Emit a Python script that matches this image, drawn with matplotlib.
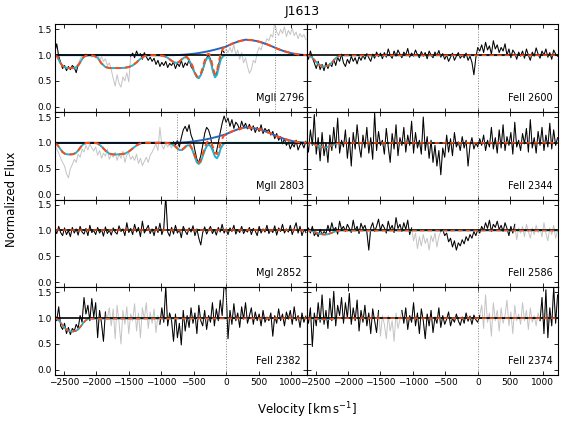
import numpy as np
import matplotlib.pyplot as plt

# spectrum pixel grid (km/s)
vel = np.arange(-2640, 1241, 30)

flux_mg2796 = [1.05, 1.22, 0.98, 0.86, 0.74, 0.80, 0.70, 0.78, 0.72, 0.80,
               0.76, 0.66, 0.82, 0.92, 1.00, 0.97, 1.03, 0.98, 1.02, 0.96,
               1.00, 0.95, 1.02, 0.90, 0.97, 0.88, 0.93, 0.80, 0.85, 0.72,
               0.55, 0.40, 0.62, 0.45, 0.38, 0.58, 0.50, 0.66, 0.48, 0.98,
               1.04, 0.95, 1.08, 0.99, 1.03, 0.92, 1.05, 0.97, 0.90, 0.96,
               0.88, 0.94, 0.82, 0.90, 0.78, 0.86, 0.80, 0.88, 0.76, 0.84,
               0.80, 0.87, 0.74, 0.84, 0.78, 0.90, 0.76, 0.85, 0.80, 0.92,
               0.78, 0.72, 0.66, 0.58, 0.55, 0.62, 0.70, 0.84, 0.95, 1.00,
               0.92, 0.75, 0.60, 0.62, 0.78, 0.95, 1.10, 1.05, 1.12, 1.05,
               1.15, 1.05, 1.20, 1.00, 1.10, 0.92, 1.05, 0.85, 0.95, 0.78,
               0.65, 0.72, 0.90, 0.85, 1.05, 1.15, 1.10, 1.25, 1.20, 1.32,
               1.28, 1.40, 1.35, 1.65, 1.45, 1.38, 1.50, 1.42, 1.55, 1.36,
               1.48, 1.40, 1.52, 1.38, 1.45, 1.32, 1.42, 1.35, 1.40, 1.30]

flux_fe2600 = [1.02, 0.92, 1.08, 0.95, 0.85, 0.74, 0.88, 0.72, 0.82, 0.70,
               0.86, 0.74, 0.84, 0.78, 0.92, 0.80, 0.96, 0.88, 1.02, 0.85,
               0.78, 0.92, 0.84, 0.98, 0.88, 0.95, 0.83, 0.97, 0.90, 1.00,
               0.92, 1.03, 0.95, 0.88, 1.02, 0.94, 1.06, 0.97, 1.04, 0.93,
               1.05, 0.96, 1.12, 1.00, 0.94, 1.08, 0.98, 1.10, 1.02, 0.95,
               1.06, 1.00, 1.13, 0.96, 1.04, 0.98, 1.10, 1.01, 0.95, 1.07,
               0.98, 1.05, 0.93, 1.08, 1.00, 0.95, 1.06, 0.99, 1.09, 0.96,
               1.03, 0.92, 1.00, 0.88, 0.96, 1.04, 0.90, 0.98, 1.05, 0.94,
               1.00, 0.95, 1.04, 0.90, 0.98, 0.86, 0.62, 0.95, 1.15, 1.08,
               1.20, 1.05, 1.25, 1.10, 1.18, 1.02, 1.28, 1.12, 1.20, 1.05,
               1.15, 1.08, 1.22, 1.00, 1.12, 0.95, 1.10, 1.04, 0.92, 1.06,
               0.98, 1.08, 0.94, 1.12, 1.00, 0.90, 1.06, 0.98, 1.14, 1.02,
               0.94, 1.08, 1.00, 1.12, 0.96, 1.05, 0.92, 1.10, 1.02, 0.98]

flux_mg2803 = [0.98, 0.88, 0.80, 0.70, 0.62, 0.55, 0.40, 0.32, 0.50, 0.58,
               0.68, 0.62, 0.78, 0.72, 0.88, 0.82, 0.95, 0.86, 0.98, 0.90,
               0.84, 0.92, 0.76, 0.85, 0.70, 0.80, 0.74, 0.88, 0.68, 0.78,
               0.72, 0.82, 0.66, 0.78, 0.70, 0.84, 0.62, 0.76, 0.80, 0.68,
               0.74, 0.66, 0.78, 0.60, 0.70, 0.56, 0.64, 0.72, 0.62, 0.76,
               0.82, 0.90, 0.98, 0.85, 1.30, 0.95, 0.88, 1.00, 0.92, 0.97,
               0.90, 1.02, 0.95, 1.05, 0.92, 1.10, 1.25, 1.32, 1.22, 1.35,
               1.15, 1.05, 0.85, 0.68, 0.62, 0.75, 0.95, 1.18, 1.30, 1.25,
               1.12, 0.90, 0.78, 0.82, 1.00, 1.20, 1.38, 1.52, 1.40, 1.48,
               1.32, 1.45, 1.28, 1.40, 1.35, 1.25, 1.42, 1.30, 1.38, 1.27,
               1.36, 1.24, 1.33, 1.20, 1.30, 1.22, 1.35, 1.18, 1.28, 1.22,
               1.26, 1.15, 1.22, 1.08, 1.18, 1.05, 1.12, 0.98, 1.08, 0.95,
               1.02, 0.88, 0.98, 0.92, 1.05, 0.86, 0.96, 1.00, 0.90, 1.03]

flux_fe2344 = [1.05, 0.82, 1.25, 0.95, 1.55, 0.78, 1.10, 0.65, 1.20, 0.75,
               1.00, 0.62, 1.15, 0.85, 1.30, 0.90, 1.48, 0.80, 1.05, 0.92,
               1.25, 0.70, 1.10, 0.55, 1.20, 0.88, 1.35, 0.95, 0.72, 1.15,
               0.90, 1.30, 0.80, 1.10, 0.68, 1.58, 0.85, 1.22, 0.95, 1.05,
               0.78, 1.28, 0.92, 0.62, 1.18, 0.88, 1.35, 0.75, 1.10, 0.95,
               1.30, 0.82, 1.15, 0.95, 1.42, 0.80, 1.20, 0.90, 1.05, 0.78,
               1.50, 0.85, 1.12, 0.70, 1.05, 0.62, 0.95, 0.55, 0.85, 0.38,
               0.90, 0.72, 1.15, 0.82, 1.08, 0.75, 1.20, 0.92, 1.02, 0.85,
               1.12, 0.90, 1.05, 0.55, 0.95, 1.10, 0.88, 1.00, 0.92, 1.08,
               0.95, 1.15, 0.85, 1.05, 0.92, 1.30, 0.88, 1.10, 0.80, 1.25,
               0.90, 1.35, 0.85, 1.12, 0.95, 1.20, 0.78, 1.40, 0.92, 1.05,
               0.85, 1.18, 0.98, 1.28, 0.82, 1.45, 0.90, 1.10, 0.80, 1.22,
               0.95, 1.30, 0.85, 1.15, 0.92, 1.38, 0.88, 1.25, 0.95, 1.10]

flux_mg2852 = [1.02, 0.94, 1.08, 0.96, 0.90, 1.05, 0.92, 1.00, 0.88, 1.06,
               0.95, 1.03, 0.91, 1.08, 0.97, 0.93, 1.04, 0.90, 1.10, 0.96,
               1.00, 0.92, 1.06, 0.95, 1.02, 0.89, 1.07, 0.94, 1.01, 0.91,
               1.05, 0.97, 0.93, 1.09, 0.98, 1.03, 0.90, 1.15, 0.96, 1.04,
               0.92, 1.12, 0.97, 1.06, 0.88, 1.18, 0.95, 1.02, 1.10, 0.94,
               1.03, 0.90, 1.08, 0.96, 1.14, 0.92, 1.04, 1.68, 0.97, 0.89,
               1.06, 0.93, 1.10, 0.95, 1.02, 0.86, 1.08, 0.99, 0.92, 1.05,
               0.97, 1.09, 0.90, 1.03, 0.85, 0.72, 0.96, 1.07, 0.93, 1.01,
               1.08, 0.94, 1.02, 0.91, 1.06, 0.97, 1.12, 0.95, 1.03, 0.92,
               1.05, 0.98, 1.10, 0.93, 1.02, 0.96, 1.08, 0.94, 1.01, 0.97,
               1.06, 0.92, 1.04, 0.99, 0.90, 1.08, 0.95, 1.03, 0.97, 1.10,
               0.94, 1.02, 0.96, 1.09, 0.91, 1.05, 0.98, 1.12, 0.95, 1.03,
               0.97, 1.10, 0.92, 1.04, 1.15, 0.95, 1.08, 0.90, 1.02, 0.96]

flux_fe2586 = [1.00, 1.05, 0.95, 1.08, 0.90, 0.96, 0.88, 1.02, 0.92, 0.98,
               0.94, 1.10, 0.97, 1.15, 1.00, 1.06, 0.93, 1.18, 1.02, 1.08,
               0.98, 1.12, 1.04, 0.96, 1.20, 1.00, 1.08, 0.94, 1.14, 1.03,
               1.10, 0.97, 0.62, 1.05, 1.15, 0.98, 1.08, 1.22, 1.00, 1.12,
               1.05, 0.95, 1.18, 1.02, 1.10, 0.96, 1.25, 1.04, 1.12, 0.98,
               1.15, 1.02, 1.20, 0.92, 1.05, 0.80, 0.95, 0.65, 0.88, 0.70,
               0.92, 0.75, 0.85, 0.62, 0.90, 0.78, 0.95, 0.68, 0.88, 0.98,
               1.02, 0.90, 0.95, 0.78, 0.85, 0.68, 0.80, 0.62, 0.76, 0.70,
               0.82, 0.74, 0.88, 0.80, 0.92, 0.85, 0.98, 0.90, 1.02, 0.95,
               1.08, 1.00, 1.15, 1.04, 1.20, 0.98, 1.12, 1.06, 1.18, 1.02,
               1.10, 0.98, 1.15, 1.04, 0.90, 1.08, 0.95, 1.12, 0.82, 1.05,
               0.95, 1.08, 0.88, 1.12, 0.98, 0.85, 1.05, 0.92, 1.10, 0.96,
               1.02, 0.88, 1.15, 0.95, 0.80, 1.05, 0.92, 1.10, 0.85, 1.00]

flux_fe2382 = [1.10, 0.95, 1.22, 0.85, 0.78, 0.90, 0.70, 0.82, 0.68, 0.80,
               0.75, 0.88, 0.80, 1.05, 0.92, 1.40, 1.08, 1.25, 0.95, 1.38,
               1.02, 1.30, 0.62, 1.15, 0.90, 0.55, 1.12, 0.98, 1.20, 0.85,
               1.18, 0.60, 1.25, 0.92, 0.50, 1.15, 0.88, 1.22, 0.70, 1.08,
               0.95, 1.28, 0.75, 1.10, 0.62, 1.20, 0.98, 1.30, 0.80, 1.12,
               0.90, 1.18, 0.72, 1.05, 0.88, 1.20, 0.92, 1.62, 0.85, 1.10,
               0.95, 0.55, 1.08, 0.62, 0.90, 0.48, 1.15, 0.75, 1.05, 0.82,
               1.20, 0.90, 1.10, 0.70, 1.25, 0.95, 0.85, 1.15, 0.78, 1.05,
               0.92, 1.30, 0.85, 1.18, 0.95, 1.35, 1.05, 1.65, 1.55, 0.60,
               1.15, 0.88, 1.28, 0.95, 1.10, 0.82, 1.22, 0.98, 1.30, 0.90,
               1.05, 1.20, 0.88, 1.12, 0.95, 1.08, 0.85, 1.15, 0.92, 1.02,
               0.95, 1.10, 0.65, 1.05, 0.90, 1.18, 0.95, 1.08, 0.85, 1.12,
               0.98, 1.15, 0.88, 1.22, 0.95, 1.05, 0.82, 1.10, 0.92, 1.04]

flux_fe2374 = [1.05, 0.90, 1.20, 0.45, 1.10, 0.85, 1.30, 0.92, 1.45, 0.88,
               1.15, 0.80, 1.38, 0.95, 1.52, 0.85, 1.25, 1.05, 1.40, 0.90,
               1.30, 1.00, 1.48, 0.88, 1.20, 0.95, 1.35, 0.75, 1.15, 0.92,
               1.25, 0.85, 1.10, 0.70, 1.18, 0.95, 0.72, 1.15, 0.65, 1.05,
               0.88, 0.60, 1.05, 0.75, 0.95, 0.55, 1.10, 0.80, 0.98, 1.15,
               0.90, 1.20, 0.78, 1.05, 0.92, 1.30, 0.85, 1.10, 0.70, 1.18,
               0.95, 0.60, 1.08, 0.85, 1.15, 0.72, 1.02, 0.90, 1.20, 0.82,
               1.05, 0.88, 0.98, 1.12, 0.85, 1.00, 0.92, 1.08, 0.95, 0.86,
               1.02, 0.90, 1.10, 0.94, 1.04, 0.88, 1.06, 0.97, 0.92, 1.05,
               1.25, 0.80, 1.45, 0.92, 1.10, 0.65, 1.30, 0.95, 1.15, 0.75,
               1.20, 0.90, 1.05, 1.35, 0.85, 1.12, 0.70, 1.25, 0.95, 1.08,
               0.88, 1.30, 0.95, 1.15, 0.78, 1.20, 0.92, 1.05, 0.85, 1.10,
               0.95, 1.40, 0.70, 1.55, 0.62, 1.20, 0.85, 1.60, 0.90, 1.45]

# velocity ranges left out of the fit (drawn grey)
grey_mg2796 = [(-2265, -1475), (-15, 1250)]
grey_fe2600 = []
grey_mg2803 = [(-2650, -815)]
grey_fe2344 = []
grey_mg2852 = []
grey_fe2586 = [(-1000, -590), (590, 1250)]
grey_fe2382 = [(-1840, -1030)]
grey_fe2374 = [(-1510, -1190), (45, 945)]

# MgII model knots
mg_model_vel = [-2640, -2600, -2560, -2520, -2480, -2440, -2400, -2360, -2320, -2280,
                -2240, -2200, -2160, -2100, -2040, -1980, -1920, -1860, -1800, -1740,
                -1680, -1620, -1560, -1500, -1440, -1380, -1320, -1260, -1200, -1100,
                -1000, -950, -900, -850, -800, -760, -720, -680, -640, -600,
                -560, -520, -480, -450, -420, -390, -360, -320, -290, -260,
                -230, -200, -170, -140, -110, -80, -40, 0, 100, 200,
                300, 400, 500, 600, 700, 800, 900, 1000, 1100, 1240]

emission = [1.0, 1.0, 1.0, 1.0, 1.0, 1.0, 1.0, 1.0, 1.0, 1.0,
            1.0, 1.0, 1.0, 1.0, 1.0, 1.0, 1.0, 1.0, 1.0, 1.0,
            1.0, 1.0, 1.0, 1.0, 1.0, 1.0, 1.0, 1.0, 1.0, 1.0,
            1.0, 1.0, 1.0, 1.0, 1.0, 1.002, 1.004, 1.007, 1.01, 1.014,
            1.019, 1.025, 1.031, 1.036, 1.042, 1.048, 1.055, 1.064, 1.072, 1.080,
            1.089, 1.098, 1.107, 1.117, 1.127, 1.138, 1.152, 1.167, 1.225, 1.27,
            1.30, 1.29, 1.265, 1.225, 1.175, 1.12, 1.075, 1.04, 1.015, 1.0]

absorb_mg2796 = [1.0, 0.97, 0.86, 0.79, 0.76, 0.75, 0.75, 0.75, 0.76, 0.80,
                 0.88, 0.96, 0.99, 1.0, 0.99, 0.95, 0.84, 0.77, 0.75, 0.75,
                 0.75, 0.75, 0.755, 0.77, 0.80, 0.86, 0.93, 0.98, 1.0, 1.0,
                 0.995, 0.98, 0.95, 0.90, 0.86, 0.85, 0.87, 0.92, 0.96, 0.95,
                 0.88, 0.78, 0.64, 0.57, 0.56, 0.61, 0.72, 0.88, 0.95, 0.95,
                 0.84, 0.67, 0.57, 0.62, 0.78, 0.92, 0.99, 1.0, 1.0, 1.0,
                 1.0, 1.0, 1.0, 1.0, 1.0, 1.0, 1.0, 1.0, 1.0, 1.0]

total_mg2796 = [1.0, 0.97, 0.86, 0.79, 0.76, 0.75, 0.75, 0.75, 0.76, 0.80,
                0.88, 0.96, 0.99, 1.0, 0.99, 0.95, 0.84, 0.77, 0.75, 0.75,
                0.75, 0.75, 0.755, 0.77, 0.80, 0.86, 0.93, 0.98, 1.0, 1.0,
                0.995, 0.98, 0.95, 0.90, 0.86, 0.852, 0.874, 0.926, 0.97, 0.963,
                0.897, 0.80, 0.66, 0.59, 0.583, 0.64, 0.76, 0.936, 1.018, 1.026,
                0.915, 0.736, 0.631, 0.693, 0.879, 1.047, 1.14, 1.167, 1.225, 1.27,
                1.30, 1.29, 1.265, 1.225, 1.175, 1.12, 1.075, 1.04, 1.015, 1.0]

absorb_mg2803 = [0.99, 0.96, 0.89, 0.82, 0.785, 0.775, 0.775, 0.78, 0.80, 0.85,
                 0.92, 0.975, 0.995, 1.0, 1.0, 0.99, 0.93, 0.85, 0.79, 0.775,
                 0.775, 0.78, 0.79, 0.83, 0.89, 0.95, 0.99, 1.0, 1.0, 1.0,
                 1.0, 1.0, 0.995, 0.98, 0.95, 0.90, 0.86, 0.86, 0.90, 0.95,
                 0.95, 0.86, 0.72, 0.62, 0.59, 0.63, 0.74, 0.88, 0.95, 0.96,
                 0.92, 0.83, 0.73, 0.70, 0.77, 0.90, 0.98, 1.0, 1.0, 1.0,
                 1.0, 1.0, 1.0, 1.0, 1.0, 1.0, 1.0, 1.0, 1.0, 1.0]

total_mg2803 = [0.99, 0.96, 0.89, 0.82, 0.785, 0.775, 0.775, 0.78, 0.80, 0.85,
                0.92, 0.975, 0.995, 1.0, 1.0, 0.99, 0.93, 0.85, 0.79, 0.775,
                0.775, 0.78, 0.79, 0.83, 0.89, 0.95, 0.99, 1.0, 1.0, 1.0,
                1.0, 1.0, 0.995, 0.98, 0.95, 0.902, 0.863, 0.866, 0.909, 0.963,
                0.968, 0.882, 0.742, 0.642, 0.615, 0.66, 0.781, 0.936, 1.018, 1.037,
                1.002, 0.911, 0.808, 0.78, 0.868, 1.024, 1.129, 1.167, 1.225, 1.27,
                1.30, 1.29, 1.265, 1.225, 1.175, 1.12, 1.075, 1.04, 1.015, 1.0]

# model knots for the other transitions (only the blend near -2400)
dip_vel = [-2640, -2600, -2560, -2520, -2480, -2440, -2400, -2360,
           -2320, -2280, -2240, -2200, -2160, -2120, 1240]
model_fe2600 = [1.0, 0.99, 0.96, 0.91, 0.85, 0.81, 0.785, 0.78,
                0.79, 0.82, 0.87, 0.93, 0.97, 0.995, 1.0]
model_fe2344 = [1.0, 0.998, 0.99, 0.97, 0.95, 0.93, 0.915, 0.91,
                0.915, 0.93, 0.955, 0.975, 0.99, 0.998, 1.0]
model_mg2852 = [1.0, 1.0, 1.0, 1.0, 1.0, 1.0, 1.0, 1.0,
                1.0, 1.0, 1.0, 1.0, 1.0, 1.0, 1.0]
model_fe2586 = [1.0, 0.998, 0.99, 0.975, 0.955, 0.935, 0.925, 0.92,
                0.925, 0.94, 0.96, 0.98, 0.99, 0.998, 1.0]
model_fe2382 = [1.0, 0.98, 0.93, 0.86, 0.80, 0.76, 0.745, 0.74,
                0.75, 0.78, 0.84, 0.91, 0.96, 0.99, 1.0]
model_fe2374 = [1.0, 1.0, 0.995, 0.99, 0.985, 0.98, 0.978, 0.977,
                0.978, 0.982, 0.988, 0.993, 0.997, 1.0, 1.0]

ORANGE = '#ff4a14'
CYAN = '#1fb3d2'
BLUE = '#2466c0'
GREY = '#c4c4c4'

panels = [
    (0, 0, 'MgII 2796', flux_mg2796, grey_mg2796, [0, 750]),
    (0, 1, 'FeII 2600', flux_fe2600, grey_fe2600, [0]),
    (1, 0, 'MgII 2803', flux_mg2803, grey_mg2803, [-750, 0]),
    (1, 1, 'FeII 2344', flux_fe2344, grey_fe2344, [0]),
    (2, 0, 'MgI 2852', flux_mg2852, grey_mg2852, [0]),
    (2, 1, 'FeII 2586', flux_fe2586, grey_fe2586, [0]),
    (3, 0, 'FeII 2382', flux_fe2382, grey_fe2382, [0]),
    (3, 1, 'FeII 2374', flux_fe2374, grey_fe2374, [0]),
]
dip_models = {'FeII 2600': model_fe2600, 'FeII 2344': model_fe2344,
              'MgI 2852': model_mg2852, 'FeII 2586': model_fe2586,
              'FeII 2382': model_fe2382, 'FeII 2374': model_fe2374}
mg_models = {'MgII 2796': (absorb_mg2796, total_mg2796),
             'MgII 2803': (absorb_mg2803, total_mg2803)}

fig, axes = plt.subplots(4, 2, figsize=(5.65, 4.25), dpi=100, sharex=True, sharey=True)
fig.subplots_adjust(left=0.097, right=0.988, top=0.943, bottom=0.118, hspace=0, wspace=0)

for row, col, name, flux, grey, vlines in panels:
    ax = axes[row, col]
    flux = np.array(flux, dtype=float)
    fit = flux.copy()
    for lo, hi in grey:
        fit[(vel >= lo) & (vel <= hi)] = np.nan
    ax.plot(vel, flux, color=GREY, lw=0.7)
    ax.plot(vel, fit, color='k', lw=0.7)
    for v in vlines:
        ax.axvline(v, color='grey', ls=':', lw=0.7)
    if name in mg_models:
        absorb, total = mg_models[name]
        ax.plot(mg_model_vel, absorb, color=CYAN, lw=1.4)
        ax.plot(mg_model_vel, emission, color=BLUE, lw=1.4)
        ax.axhline(1.0, color='k', lw=1.2)
        ax.plot(mg_model_vel, total, color=ORANGE, lw=1.4, ls=(0, (3, 2)))
    else:
        ax.plot(dip_vel, dip_models[name], color=CYAN, lw=1.3)
        ax.axhline(1.0, color='k', lw=1.2)
        ax.plot(dip_vel, dip_models[name], color=ORANGE, lw=1.1, ls=(0, (3, 2)))
    ax.text(0.8, 0.1, name, transform=ax.transAxes, fontsize=7, ha='left', va='bottom')
    ax.tick_params(direction='in', top=True, right=True, length=3, width=0.6,
                   labelsize=6.5, pad=2)

axes[0, 0].set_xlim(-2640, 1240)
axes[0, 0].set_ylim(-0.1, 1.6)
axes[0, 0].set_xticks([-2500, -2000, -1500, -1000, -500, 0, 500, 1000])
axes[0, 0].set_yticks([0.0, 0.5, 1.0, 1.5])

fig.text(0.535, 0.974, 'J1613', ha='center', va='center', fontsize=9)
fig.text(0.021, 0.53, 'Normalized Flux', rotation=90, ha='center', va='center', fontsize=8.5)
fig.text(0.543, 0.035, r'Velocity [km$\,$s$^{-1}$]', ha='center', va='center', fontsize=8.5)

plt.savefig('out.png', dpi=100)
